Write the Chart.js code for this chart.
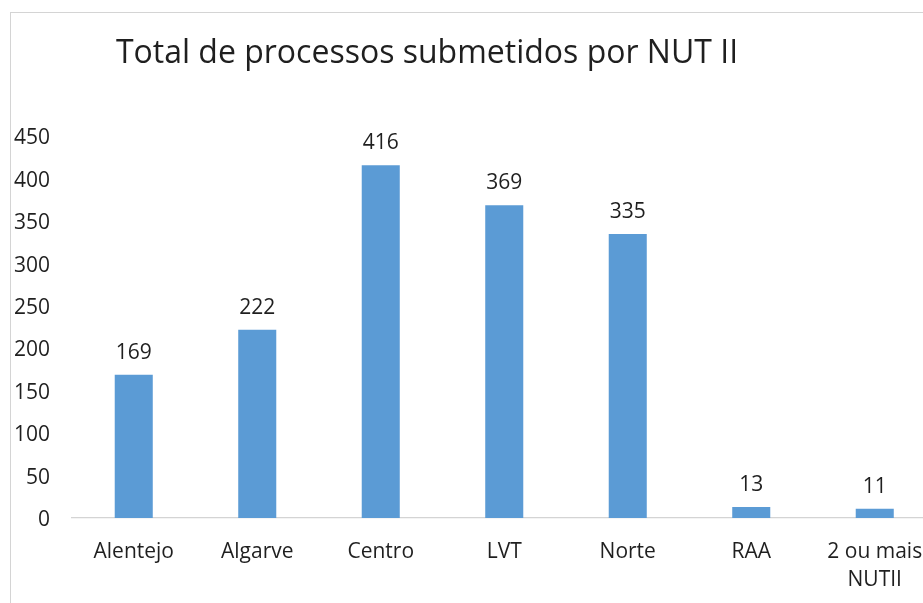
<!DOCTYPE html>
<html>
<head>
<meta charset="utf-8">
<script src="https://cdn.jsdelivr.net/npm/chart.js@4/dist/chart.umd.min.js"></script>
<style>
  html, body { margin: 0; padding: 0; background: #fff; overflow: hidden; width: 923px; height: 603px; }
  #frame { position: absolute; left: 10px; top: 12px; width: 1000px; height: 700px; border-left: 1px solid #d4d4d4; border-top: 1px solid #d4d4d4; box-sizing: border-box; }
  #c { position: absolute; left: 0; top: 0; }
</style>
</head>
<body>
<div id="frame"></div>
<canvas id="c" width="960" height="620"></canvas>
<script>
const titleText = "Total de processos submetidos por NUT II";
const categories = ["Alentejo", "Algarve", "Centro", "LVT", "Norte", "RAA", ["2 ou mais", "NUTII"]];
const values = [169, 222, 416, 369, 335, 13, 11];
const yTicks = [0, 50, 100, 150, 200, 250, 300, 350, 400, 450];

const FONT = "'Open Sans', sans-serif";
const TEXT = "#1f1f1f";

const titlePlugin = {
  id: 'customTitle',
  afterDraw(chart) {
    const ctx = chart.ctx;
    ctx.save();
    ctx.font = "32px " + FONT;
    ctx.fillStyle = TEXT;
    ctx.textAlign = 'center';
    ctx.textBaseline = 'alphabetic';
    ctx.fillText(titleText, 427, 63);
    ctx.restore();
  }
};

const yLabelPlugin = {
  id: 'yLabels',
  afterDraw(chart) {
    const ctx = chart.ctx;
    const y = chart.scales.y;
    ctx.save();
    ctx.font = "21px " + FONT;
    ctx.fillStyle = TEXT;
    ctx.textAlign = 'right';
    ctx.textBaseline = 'middle';
    yTicks.forEach(v => {
      ctx.fillText(String(v), chart.chartArea.left - 22, y.getPixelForValue(v) + 2);
    });
    ctx.restore();
  }
};

const labelPlugin = {
  id: 'barLabels',
  afterDatasetsDraw(chart) {
    const ctx = chart.ctx;
    const meta = chart.getDatasetMeta(0);
    ctx.save();
    ctx.font = "21px " + FONT;
    ctx.fillStyle = TEXT;
    ctx.textAlign = 'center';
    ctx.textBaseline = 'middle';
    meta.data.forEach((bar, i) => {
      ctx.fillText(String(values[i]), bar.x, bar.y - 22);
    });
    ctx.restore();
  }
};

new Chart(document.getElementById('c'), {
  type: 'bar',
  data: {
    labels: categories,
    datasets: [{
      data: values,
      backgroundColor: '#5B9BD5',
      borderWidth: 0,
      categoryPercentage: 1.0,
      barPercentage: 0.308
    }]
  },
  options: {
    responsive: false,
    devicePixelRatio: 1,
    animation: false,
    layout: { padding: { left: 10, top: 136.5, right: 23.5, bottom: 22 } },
    plugins: { legend: { display: false }, title: { display: false }, tooltip: { enabled: false } },
    scales: {
      x: {
        grid: { display: false, drawTicks: false },
        border: { display: true, color: '#d4d4d4', width: 1.3 },
        ticks: { font: { family: FONT, size: 21, lineHeight: 1.333 }, color: TEXT, padding: 20, maxRotation: 0, autoSkip: false },
        afterFit(scale) { scale.height = 80; }
      },
      y: {
        min: 0, max: 450,
        grid: { display: false, drawTicks: false },
        border: { display: false },
        afterBuildTicks(scale) { scale.ticks = yTicks.map(v => ({ value: v })); },
        ticks: { display: false },
        afterFit(scale) { scale.width = 62; }
      }
    }
  },
  plugins: [titlePlugin, yLabelPlugin, labelPlugin]
});
</script>
</body>
</html>
